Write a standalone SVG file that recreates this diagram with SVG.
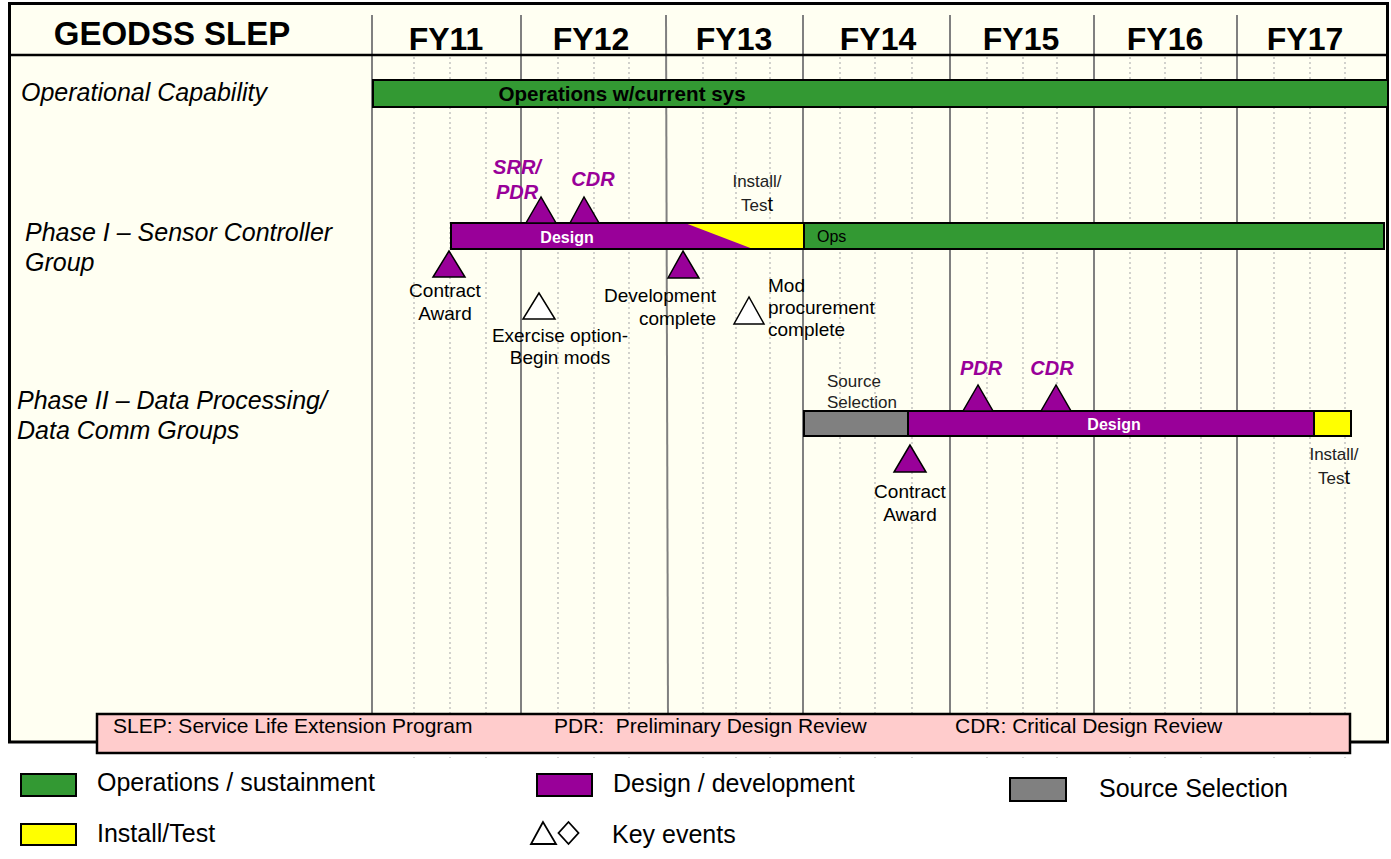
<svg xmlns="http://www.w3.org/2000/svg" width="1391" height="859" viewBox="0 0 1391 859">
<style>
text{font-family:"Liberation Sans",Arial,sans-serif;fill:#000}
.yr{stroke:#808080;stroke-width:2}
.dot{stroke:#b4b4b4;stroke-width:1.2;stroke-dasharray:2 3}
.bar{stroke:#000;stroke-width:2}
.green{fill:#339933}
.purple{fill:#990099}
.yellow{fill:#ffff00}
.gray{fill:#808080}
.tri{fill:#990099;stroke:#000;stroke-width:1.5}
.otri{fill:#fff;stroke:#000;stroke-width:1.5}
.fy{font-size:32px;font-weight:bold;text-anchor:middle}
.row{font-size:25px;font-style:italic}
.lbl{font-size:19px}
.sm{font-size:17px;fill:#222}
.ms{font-size:20px;font-weight:bold;font-style:italic;fill:#990099}
.bt{font-size:16px;font-weight:bold;fill:#fff;text-anchor:middle}
.leg{font-size:25px}
.note{font-size:21px;white-space:pre}
.mid{text-anchor:middle}
</style>
<rect x="0" y="0" width="1391" height="859" fill="#fff"/>
<rect id="frame" x="9.5" y="3.5" width="1378" height="738.5" fill="#fffff2" stroke="#000" stroke-width="3"/>
<g id="grid">
<g class="dot">
<line x1="414" y1="57" x2="414" y2="758"/><line x1="450" y1="57" x2="450" y2="758"/><line x1="486" y1="57" x2="486" y2="758"/>
<line x1="558" y1="57" x2="558" y2="758"/><line x1="594" y1="57" x2="594" y2="758"/><line x1="629" y1="57" x2="629" y2="758"/>
<line x1="703" y1="57" x2="703" y2="758"/><line x1="736" y1="57" x2="736" y2="758"/><line x1="770" y1="57" x2="770" y2="758"/>
<line x1="840" y1="57" x2="840" y2="758"/><line x1="875" y1="57" x2="875" y2="758"/><line x1="912" y1="57" x2="912" y2="758"/>
<line x1="987" y1="57" x2="987" y2="758"/><line x1="1023" y1="57" x2="1023" y2="758"/><line x1="1057" y1="57" x2="1057" y2="758"/>
<line x1="1130" y1="57" x2="1130" y2="758"/><line x1="1165" y1="57" x2="1165" y2="758"/><line x1="1201" y1="57" x2="1201" y2="758"/>
<line x1="1274" y1="57" x2="1274" y2="758"/><line x1="1310" y1="57" x2="1310" y2="758"/><line x1="1345" y1="57" x2="1345" y2="758"/>
</g>
<g class="yr">
<line x1="372" y1="15" x2="372" y2="714"/><line x1="521" y1="15" x2="521" y2="714"/><line x1="666" y1="15" x2="668" y2="714"/>
<line x1="803" y1="15" x2="803" y2="714"/><line x1="950" y1="15" x2="950" y2="714"/><line x1="1094" y1="15" x2="1094" y2="714"/>
<line x1="1237" y1="15" x2="1237" y2="714"/>
</g>
<line x1="9" y1="55" x2="1389" y2="55" stroke="#000" stroke-width="2.5"/>
</g>
<g id="header">
<text x="172" y="45" font-size="33" font-weight="bold" text-anchor="middle">GEODSS SLEP</text>
<text class="fy" x="446" y="50">FY11</text>
<text class="fy" x="591" y="50">FY12</text>
<text class="fy" x="734" y="50">FY13</text>
<text class="fy" x="878" y="50">FY14</text>
<text class="fy" x="1021" y="50">FY15</text>
<text class="fy" x="1165" y="50">FY16</text>
<text class="fy" x="1305" y="50">FY17</text>
</g>
<g id="row-operational">
<text class="row" x="21" y="101">Operational Capability</text>
<rect class="bar green" x="373" y="80" width="1015" height="27"/>
<text x="622" y="101" font-size="20.6" font-weight="bold" text-anchor="middle">Operations w/current sys</text>
</g>
<g id="row-phase1">
<text class="row" x="25" y="241">Phase I – Sensor Controller</text>
<text class="row" x="25" y="271">Group</text>
<rect class="purple" x="451" y="223" width="353" height="26"/>
<polygon class="yellow" points="685,223 804,223 804,249 753,249"/>
<rect x="451" y="223" width="353" height="26" fill="none" stroke="#000" stroke-width="2"/>
<text class="bt" x="567" y="243">Design</text>
<rect class="bar green" x="804" y="223" width="580" height="26"/>
<text x="817" y="242" font-size="16">Ops</text>
</g>
<g id="p1-srr-pdr">
<polygon class="tri" points="541,197 526,223 556,223"/>
<text class="ms" x="517" y="174" text-anchor="middle">SRR/</text>
<text class="ms" x="517" y="199" text-anchor="middle">PDR</text>
</g>
<g id="p1-cdr">
<polygon class="tri" points="584,197 570,223 599,223"/>
<text class="ms" x="593" y="186" text-anchor="middle">CDR</text>
</g>
<g id="p1-install">
<text class="sm mid" x="757" y="187">Install/</text>
<text class="sm mid" x="757" y="211">Tes<tspan font-size="20" fill="#000">t</tspan></text>
</g>
<g id="p1-contract-award">
<polygon class="tri" points="449,251 433,277 465,277"/>
<text class="lbl mid" x="445" y="297">Contract</text>
<text class="lbl mid" x="445" y="320">Award</text>
</g>
<g id="p1-exercise-option">
<polygon class="otri" points="539,293 523,319 555,319"/>
<text class="lbl mid" x="560" y="342">Exercise option-</text>
<text class="lbl mid" x="560" y="364">Begin mods</text>
</g>
<g id="p1-dev-complete">
<polygon class="tri" points="683,251 668,278 699,278"/>
<text class="lbl" x="716" y="302" text-anchor="end">Development</text>
<text class="lbl" x="716" y="325" text-anchor="end">complete</text>
</g>
<g id="p1-mod-procurement">
<polygon class="otri" points="749,297 734,324 764,324"/>
<text class="lbl" x="768" y="292">Mod</text>
<text class="lbl" x="768" y="314">procurement</text>
<text class="lbl" x="768" y="336">complete</text>
</g>
<g id="row-phase2">
<text class="row" x="17" y="409">Phase II – Data Processing/</text>
<text class="row" x="17" y="439">Data Comm Groups</text>
<rect class="bar gray" x="804" y="411" width="104" height="25"/>
<rect class="bar purple" x="908" y="411" width="406" height="25"/>
<rect class="bar yellow" x="1314" y="411" width="37" height="25"/>
<text class="bt" x="1114" y="430">Design</text>
</g>
<g id="p2-source-selection">
<text class="sm" x="827" y="387">Source</text>
<text class="sm" x="827" y="408">Selection</text>
</g>
<g id="p2-pdr">
<polygon class="tri" points="978,385 963,411 993,411"/>
<text class="ms" x="981" y="375" text-anchor="middle">PDR</text>
</g>
<g id="p2-cdr">
<polygon class="tri" points="1056,385 1041,411 1071,411"/>
<text class="ms" x="1052" y="375" text-anchor="middle">CDR</text>
</g>
<g id="p2-contract-award">
<polygon class="tri" points="910,445 894,472 926,472"/>
<text class="lbl mid" x="910" y="498">Contract</text>
<text class="lbl mid" x="910" y="521">Award</text>
</g>
<g id="p2-install">
<text class="sm mid" x="1334" y="460">Install/</text>
<text class="sm mid" x="1334" y="484">Tes<tspan font-size="20" fill="#000">t</tspan></text>
</g>
<g id="notes">
<rect x="97" y="714" width="1253" height="39" fill="#ffcccc" stroke="#000" stroke-width="2.5"/>
<text class="note" x="113" y="733">SLEP: Service Life Extension Program</text>
<text class="note" x="554" y="733">PDR:  Preliminary Design Review</text>
<text class="note" x="955" y="733">CDR: Critical Design Review</text>
</g>
<g id="legend">
<rect class="bar green" x="21" y="774" width="55" height="22"/>
<text class="leg" x="97" y="791">Operations / sustainment</text>
<rect class="bar purple" x="537" y="774" width="55" height="22"/>
<text class="leg" x="613" y="792">Design / development</text>
<rect class="bar gray" x="1010" y="778" width="56" height="23"/>
<text class="leg" x="1099" y="797">Source Selection</text>
<rect class="bar yellow" x="21" y="824" width="55" height="21"/>
<text class="leg" x="97" y="842">Install/Test</text>
<polygon points="543,822 531,844 556,844" fill="none" stroke="#000" stroke-width="1.8"/>
<polygon points="568.5,822 578.5,833 568.5,844 558.5,833" fill="none" stroke="#000" stroke-width="1.8"/>
<text class="leg" x="612" y="843">Key events</text>
</g>
</svg>
